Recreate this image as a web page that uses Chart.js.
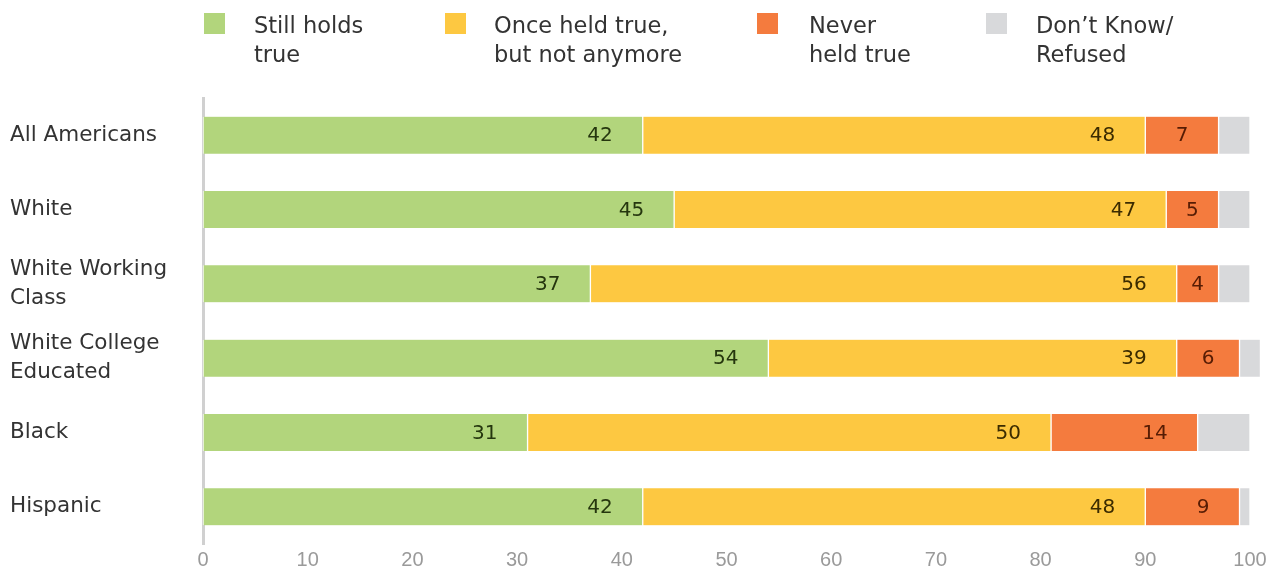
<!DOCTYPE html>
<html>
<head>
<meta charset="utf-8">
<script src="https://cdn.jsdelivr.net/npm/chart.js@4"></script>
<style>
  body { margin: 0; background: #fff; }
  #wrap { position: relative; width: 1286px; height: 571px; }
  .leg { position: absolute; top: 11px; font-family: "DejaVu Sans", sans-serif; font-size: 22.5px; line-height: 29px; color: #333; white-space: nowrap; }
  .sw { position: absolute; top: 13px; width: 21px; height: 21px; }
</style>
</head>
<body>
<div id="wrap">
  <canvas id="chart" width="1286" height="571"></canvas>
  <div id="legend"></div>
</div>
<script>
// categories (y axis), multi-line where the picture wraps
var categories = [['All Americans'], ['White'], ['White Working', 'Class'], ['White College', 'Educated'], ['Black'], ['Hispanic']];

// percentages per group
var stillHolds = [42, 45, 37, 54, 31, 42];
var onceHeld = [48, 47, 56, 39, 50, 48];
var neverHeld = [7, 5, 4, 6, 14, 9];
var dontKnow = [3, 3, 3, 2, 5, 1];

var seriesNames = [['Still holds', 'true'], ['Once held true,', 'but not anymore'], ['Never', 'held true'], ['Don\u2019t Know/', 'Refused']];
var xTicks = [0, 10, 20, 30, 40, 50, 60, 70, 80, 90, 100];

var colors = ['#b2d57c', '#fdc841', '#f47b3e', '#d8d9db'];
var labelColors = ['#25360e', '#3b2b00', '#561c04', null];

// legend as html (two-line labels)
var legendPos = [[204, 254], [445, 494], [757, 809], [986, 1036]];
var legend = document.getElementById('legend');
seriesNames.forEach(function(name, i) {
	var sw = document.createElement('div');
	sw.className = 'sw';
	sw.style.left = legendPos[i][0] + 'px';
	sw.style.background = colors[i];
	legend.appendChild(sw);
	var t = document.createElement('div');
	t.className = 'leg';
	t.style.left = legendPos[i][1] + 'px';
	t.innerHTML = name.join('<br>');
	legend.appendChild(t);
});

// values inside the segments: right aligned near the end, centred when the segment is short
var barLabels = {
	id: 'barLabels',
	afterDatasetsDraw: function(chart) {
		var ctx = chart.ctx;
		ctx.save();
		ctx.font = '20px "DejaVu Sans", sans-serif';
		ctx.textAlign = 'center';
		ctx.textBaseline = 'middle';
		chart.data.datasets.forEach(function(ds, i) {
			if (!labelColors[i]) return;
			ctx.fillStyle = labelColors[i];
			chart.getDatasetMeta(i).data.forEach(function(bar, j) {
				var txt = String(ds.data[j]);
				var w = ctx.measureText(txt).width;
				var cx = Math.max(bar.x - 30 - w / 2, (bar.x + bar.base) / 2);
				ctx.fillText(txt, cx, bar.y + 1);
			});
		});
		ctx.restore();
	}
};

function ds(label, data, i) {
	return {
		label: label, data: data, backgroundColor: colors[i],
		borderColor: '#ffffff', borderWidth: {left: 1, right: 1, top: 0, bottom: 0},
		borderSkipped: false, barThickness: 37, clip: false
	};
}

new Chart(document.getElementById('chart'), {
	type: 'bar',
	data: {
		labels: categories,
		datasets: [
			ds(seriesNames[0].join(' '), stillHolds, 0),
			ds(seriesNames[1].join(' '), onceHeld, 1),
			ds(seriesNames[2].join(' '), neverHeld, 2),
			ds(seriesNames[3].join(' '), dontKnow, 3)
		]
	},
	options: {
		indexAxis: 'y',
		responsive: false,
		animation: false,
		layout: { padding: { top: 98, left: 10, right: 36, bottom: 0 } },
		plugins: { legend: { display: false }, tooltip: { enabled: false } },
		scales: {
			x: {
				stacked: true, min: 0, max: 100,
				afterBuildTicks: function(scale) { scale.ticks = xTicks.map(function(v) { return {value: v}; }); },
				afterFit: function(scale) { scale.height = 27; },
				grid: { display: false, drawTicks: false },
				border: { display: false },
				ticks: { color: '#9a9a9a', padding: 4, maxRotation: 0, font: { family: '"Liberation Sans", Arial, sans-serif', size: 20 } }
			},
			y: {
				stacked: true,
				afterFit: function(scale) { scale.width = 193; },
				grid: { display: false, drawTicks: false },
				border: { display: true, color: '#d0d0d0', width: 3 },
				ticks: { color: '#333333', crossAlign: 'far', font: { family: '"DejaVu Sans", sans-serif', size: 21.5, lineHeight: 1.35 } }
			}
		}
	},
	plugins: [barLabels]
});
</script>
</body>
</html>
